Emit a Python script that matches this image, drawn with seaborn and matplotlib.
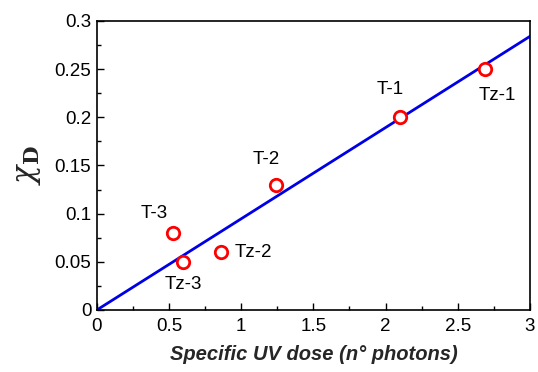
import matplotlib
matplotlib.use("Agg")
import matplotlib.pyplot as plt
import seaborn as sns
import numpy as np
import pandas as pd
from matplotlib.ticker import MultipleLocator

sns.set_theme(style="ticks")
plt.rcParams['font.family'] = ['Liberation Sans', 'DejaVu Sans']
plt.rcParams['mathtext.fontset'] = 'dejavuserif'

labels = ["T-3", "Tz-3", "Tz-2", "T-2", "T-1", "Tz-1"]
dose = [0.53, 0.60, 0.86, 1.24, 2.10, 2.69]
chi = [0.08, 0.05, 0.06, 0.13, 0.20, 0.25]
fit_x = [0.0, 3.0]
fit_y = [0.0, 0.284]
x_ticks = [0, 0.5, 1, 1.5, 2, 2.5, 3]
x_ticklabels = ["0", "0.5", "1", "1.5", "2", "2.5", "3"]
y_ticks = [0, 0.05, 0.1, 0.15, 0.2, 0.25, 0.3]
y_ticklabels = ["0", "0.05", "0.1", "0.15", "0.2", "0.25", "0.3"]
label_offsets = {"T-3": (-14, 14, "center"), "Tz-3": (0, -16, "center"),
                 "Tz-2": (10, 0, "left"), "T-2": (-7, 18, "center"),
                 "T-1": (-7, 20, "center"), "Tz-1": (9, -19, "center")}

df = pd.DataFrame({"dose": dose, "chi": chi, "label": labels})
fit = pd.DataFrame({"x": fit_x, "y": fit_y})

fig = plt.figure(figsize=(5.38, 3.72), dpi=100)
ax = fig.add_axes([0.180, 0.1667, 0.805, 0.777])

sns.lineplot(data=fit, x="x", y="y", ax=ax, color="#0000e6", lw=2)
sns.scatterplot(data=df, x="dose", y="chi", ax=ax, s=80, facecolor="white",
                edgecolor="#ff0000", linewidth=2, zorder=3)

for lab, xv, yv in zip(labels, dose, chi):
    dx, dy, ha = label_offsets[lab]
    ax.annotate(lab, (xv, yv), xytext=(dx, dy), textcoords="offset points",
                ha=ha, va="center", fontsize=13.5, color="black")

ax.set_xlim(0, 3)
ax.set_ylim(0, 0.3)
ax.xaxis.set_minor_locator(MultipleLocator(0.25))
ax.yaxis.set_minor_locator(MultipleLocator(0.025))
ax.set_xticks(x_ticks)
ax.set_xticklabels(x_ticklabels)
ax.set_yticks(y_ticks)
ax.set_yticklabels(y_ticklabels)
ax.tick_params(which="both", direction="in", top=False, right=False, labelsize=13.5,
               color="black", labelcolor="black", width=1)
ax.tick_params(which="major", length=5)
ax.tick_params(which="minor", length=3)
ax.tick_params(axis="x", pad=6)
ax.tick_params(axis="y", pad=4)
for s in ax.spines.values():
    s.set_color("black")
    s.set_linewidth(1.2)

ax.set_xlabel("Specific UV dose (n° photons)", fontsize=14.5, fontweight="bold",
              fontstyle="italic", labelpad=7)
ax.set_ylabel(r"$\chi_\mathbf{D}$", fontsize=22, labelpad=8)

fig.savefig("out.png", dpi=100)
